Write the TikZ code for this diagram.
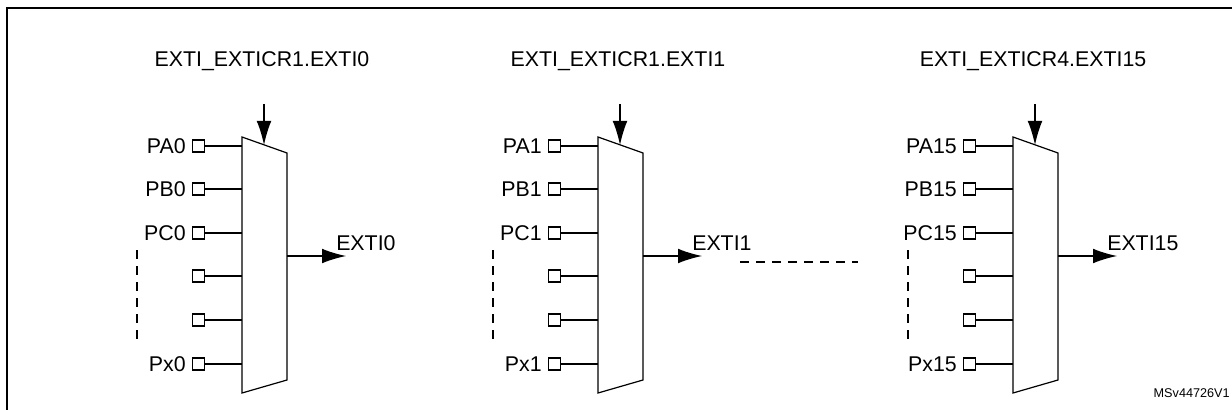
\documentclass[tikz,border=0pt]{standalone}
\usepackage{fontspec}
\setmainfont{Liberation Sans}
\usetikzlibrary{arrows.meta}
\begin{document}
\begin{tikzpicture}[x=0.75pt,y=-0.75pt,
  lbl/.style={font=\fontsize{16}{18}\selectfont,inner sep=0pt},
  pin/.style={draw,line width=0.9pt,minimum size=9pt,inner sep=0pt},
  wire/.style={line width=0.9pt},
  arr/.style={line width=0.9pt,-{Latex[length=18pt,width=11pt]}}]
\useasboundingbox (0,0) rectangle (1232,410);
\draw[line width=1.5pt] (7,410) -- (7,8) -- (1240,8);
\foreach \dx/\n/\sel in {0/0/EXTI\_EXTICR1.EXTI0, 356/1/EXTI\_EXTICR1.EXTI1, 771/15/EXTI\_EXTICR4.EXTI15}{
  \begin{scope}[xshift=\dx*0.75pt]
  \draw[wire] (242,137) coordinate (tl\n) -- (287,153) -- (287,380) -- (242,393) -- cycle;
  \node[lbl] (sel\n) at (262,61) {\sel};
  \coordinate (st\n) at (264,104);
  \draw[arr] (st\n) -- (264,145);
  \coordinate (o\n) at (287,256);
  \coordinate (oe\n) at (346,256);
  \draw[arr] (o\n) -- (oe\n);
  \node[lbl,anchor=south west] (out\n) at (336,251) {EXTI\n};
  \foreach \y/\t [count=\k] in {146/PA\n,189/PB\n,233/PC\n,276/,320/,364/Px\n}{
    \node[pin] (p\n-\k) at (198.5,\y) {};
    \coordinate (w\n-\k) at (242,\y);
    \draw[wire] (p\n-\k) -- (w\n-\k);
    \node[lbl,anchor=east] (t\n-\k) at (186,\y) {\t};
  }
  \draw[wire,dash pattern=on 7pt off 5pt] (137,250) -- (137,343);
  \end{scope}
}
\coordinate (d1) at (740,262);
\coordinate (d2) at (858,262);
\draw[wire,dash pattern=on 7pt off 5pt] (d1) -- (d2);
\node[font=\fontsize{9.5}{11}\selectfont,anchor=east,inner sep=0pt] (id) at (1230,393) {MSv44726V1};
\end{tikzpicture}
\end{document}
